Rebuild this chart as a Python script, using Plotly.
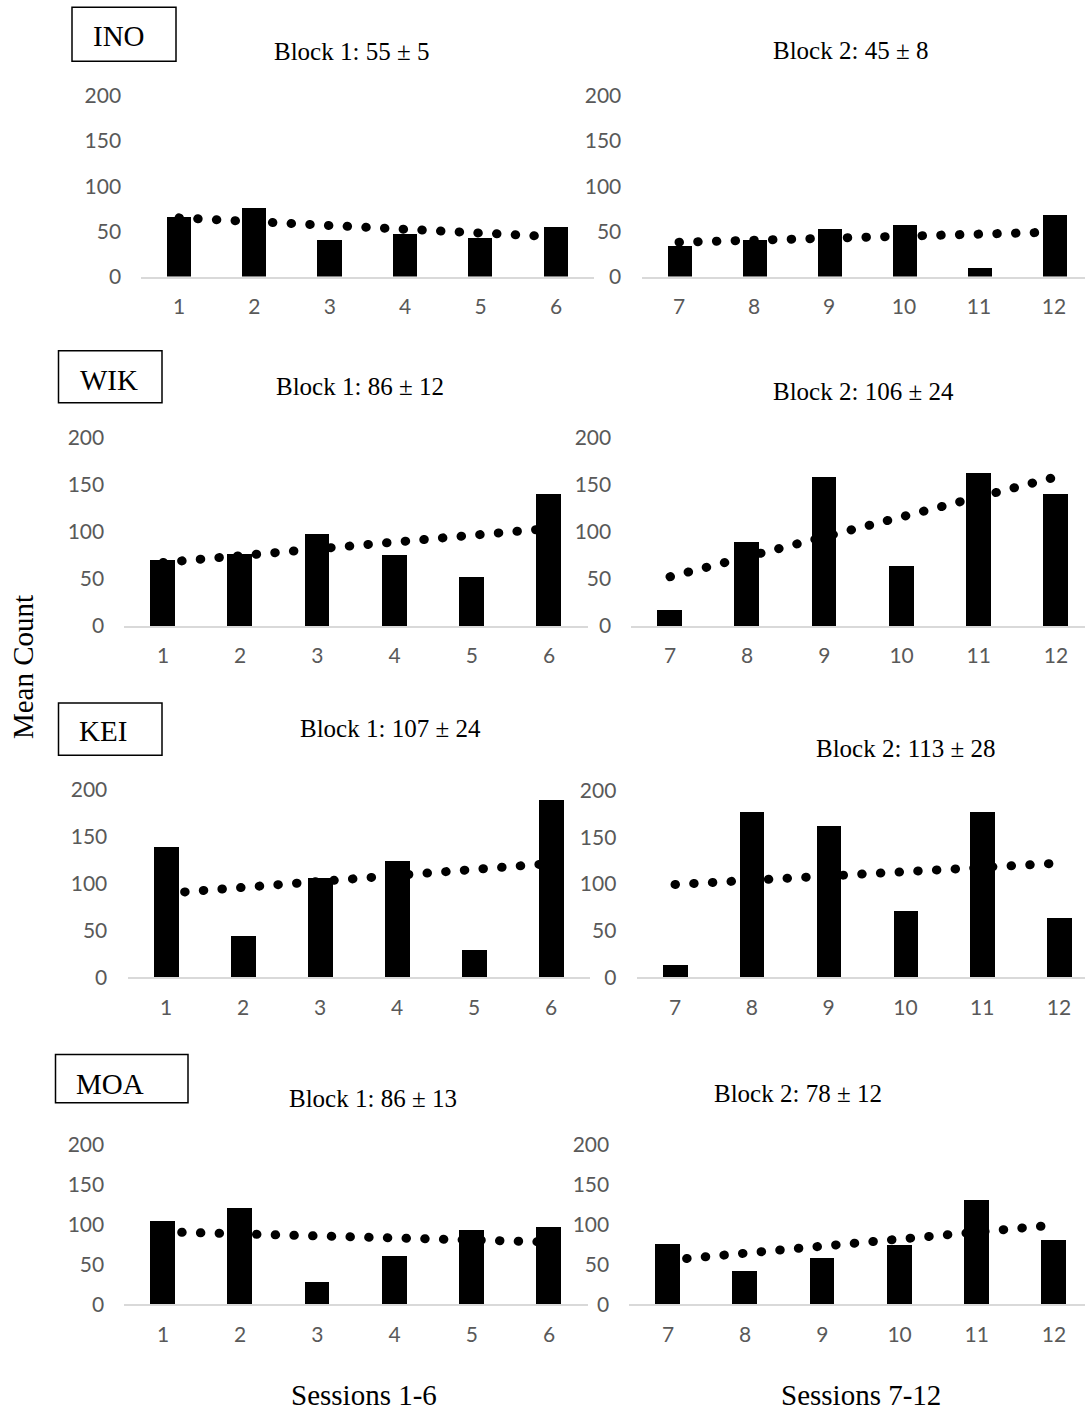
import numpy as np
import plotly.graph_objects as go

# ---- data -------------------------------------------------------------
subjects = ["INO", "WIK", "KEI", "MOA"]
sessions_block1 = [1, 2, 3, 4, 5, 6]
sessions_block2 = [7, 8, 9, 10, 11, 12]

ino_block1 = [66, 76, 40, 47, 43, 55]
ino_block2 = [34, 41, 53, 57, 9, 68]
wik_block1 = [70, 77, 98, 76, 52, 140]
wik_block2 = [17, 89, 159, 64, 163, 140]
kei_block1 = [139, 45, 106, 124, 30, 189]
kei_block2 = [14, 177, 162, 72, 177, 64]
moa_block1 = [105, 121, 29, 61, 94, 97]
moa_block2 = [76, 42, 59, 75, 131, 81]

block1_titles = ["Block 1: 55 ± 5", "Block 1: 86 ± 12", "Block 1: 107 ± 24", "Block 1: 86 ± 13"]
block2_titles = ["Block 2: 45 ± 8", "Block 2: 106 ± 24", "Block 2: 113 ± 28", "Block 2: 78 ± 12"]
y_ticks = [0, 50, 100, 150, 200]

# ---- page geometry (pixels) -------------------------------------------
W, H = 1085, 1412
# vertical placement: rendered y = V_SCALE * y + V_OFFSET
V_SCALE, V_OFFSET = 0.981, 14.8

# centre of first / last category, pixel of y=0 and y=200 for each panel
panel_geo = [
    (179, 556, 277.0, 96.7), (679, 1054, 277.0, 96.7),
    (163, 549, 626.0, 438.0), (670, 1056, 626.0, 438.0),
    (166, 551, 977.0, 789.5), (675, 1059, 977.0, 790.5),
    (163, 549, 1303.5, 1144.0), (668, 1054, 1303.5, 1144.0),
]
title_pos = [(351, 52), (850, 51), (360, 387), (863, 392),
             (390, 728), (905, 748), (373, 1098), (798, 1093)]
box_pos = [(72, 8, 176, 62), (58.5, 351, 162, 403),
           (58.5, 703, 162, 755), (55.5, 1054, 188, 1102)]
label_pos = [(91, 37), (78, 380), (77, 731), (74, 1083)]

TICK_FONT = dict(family="Lato, Calibri, sans-serif", size=21, color="#595959")
SERIF = "Liberation Serif, Times New Roman, serif"


def fx(px):
    return px / W


def fy(py):
    return 1 - ((py - V_OFFSET) / V_SCALE) / H


series = [
    (sessions_block1, ino_block1), (sessions_block2, ino_block2),
    (sessions_block1, wik_block1), (sessions_block2, wik_block2),
    (sessions_block1, kei_block1), (sessions_block2, kei_block2),
    (sessions_block1, moa_block1), (sessions_block2, moa_block2),
]

fig = go.Figure()
layout = {}

for i, ((sess, vals), (c_first, c_last, y0, y200)) in enumerate(zip(series, panel_geo)):
    n = i + 1
    xa = "x" if n == 1 else f"x{n}"
    ya = "y" if n == 1 else f"y{n}"

    fig.add_trace(go.Bar(
        x=sess, y=vals, width=0.32,
        marker=dict(color="black", line=dict(width=0)),
        xaxis=xa, yaxis=ya, showlegend=False, hoverinfo="x+y",
    ))

    # linear trendline across the block
    slope, intercept = np.polyfit(sess, vals, 1)
    tx = [sess[0], sess[-1]]
    fig.add_trace(go.Scatter(
        x=tx, y=[slope * v + intercept for v in tx], mode="lines",
        line=dict(color="black", width=9, dash="0.5px,18.2px"),
        xaxis=xa, yaxis=ya, showlegend=False, hoverinfo="skip",
    ))

    step = (c_last - c_first) / (len(sess) - 1)
    left = c_first - step / 2
    right = min(c_last + step / 2, W)
    lo = sess[0] - 0.5
    hi = lo + (right - left) / step

    layout["xaxis" if n == 1 else f"xaxis{n}"] = dict(
        domain=[fx(left), fx(right)], range=[lo, hi], anchor=ya,
        tickmode="array", tickvals=sess, ticktext=[str(s) for s in sess],
        showline=True, linecolor="#d9d9d9", linewidth=2,
        ticks="outside", ticklen=10, tickcolor="rgba(0,0,0,0)",
        showgrid=False, zeroline=False, tickfont=TICK_FONT, fixedrange=True,
    )
    layout["yaxis" if n == 1 else f"yaxis{n}"] = dict(
        domain=[fy(y0), fy(y200)], range=[0, 200], anchor=xa,
        tickmode="array", tickvals=y_ticks,
        showline=False, showgrid=False, zeroline=False,
        ticks="outside", ticklen=15, tickcolor="rgba(0,0,0,0)",
        tickfont=TICK_FONT, fixedrange=True,
    )

annotations = []
for i, t in enumerate([t for pair in zip(block1_titles, block2_titles) for t in pair]):
    x, y = title_pos[i]
    annotations.append(dict(
        text=t, x=fx(x), y=fy(y), xref="paper", yref="paper",
        xanchor="center", yanchor="middle", showarrow=False,
        font=dict(family=SERIF, size=25, color="black"),
    ))

shapes = []
for name, (x0, y0, x1, y1), (lx, ly) in zip(subjects, box_pos, label_pos):
    shapes.append(dict(
        type="rect", xref="paper", yref="paper",
        x0=fx(x0), x1=fx(x1), y0=fy(y1), y1=fy(y0),
        line=dict(color="black", width=1.5), fillcolor="rgba(0,0,0,0)",
    ))
    annotations.append(dict(
        text=name, x=fx(lx), y=fy(ly), xref="paper", yref="paper",
        xanchor="left", yanchor="middle", showarrow=False,
        font=dict(family=SERIF, size=29, color="black"),
    ))

annotations += [
    dict(text="Mean Count", x=fx(23), y=fy(667), xref="paper", yref="paper",
         xanchor="center", yanchor="middle", textangle=-90, showarrow=False,
         font=dict(family=SERIF, size=29, color="black")),
    dict(text="Sessions 1-6", x=fx(364), y=fy(1393.5), xref="paper", yref="paper",
         xanchor="center", yanchor="middle", showarrow=False,
         font=dict(family=SERIF, size=29, color="black")),
    dict(text="Sessions 7-12", x=fx(861), y=fy(1393.5), xref="paper", yref="paper",
         xanchor="center", yanchor="middle", showarrow=False,
         font=dict(family=SERIF, size=29, color="black")),
]

fig.update_layout(
    width=W, height=H, autosize=False,
    margin=dict(l=0, r=0, t=0, b=0, pad=0),
    paper_bgcolor="white", plot_bgcolor="white",
    annotations=annotations, shapes=shapes, bargap=0,
    **layout,
)

# round caps turn the short dashes of the trendlines into dots
round_caps = (
    "var s=document.createElement('style');"
    "s.textContent='.scatterlayer .js-line{stroke-linecap:round}';"
    "document.head.appendChild(s);"
)
fig.write_html("out.html", post_script=round_caps, config={"displayModeBar": False})
